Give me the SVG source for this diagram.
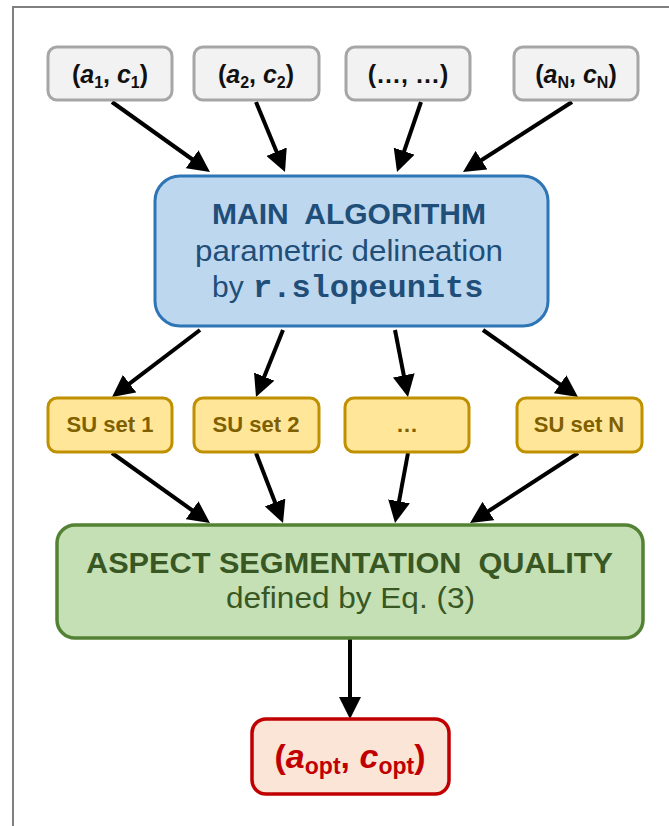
<svg xmlns="http://www.w3.org/2000/svg" width="669" height="826" viewBox="0 0 669 826">
<style>
.sans{font-family:"Liberation Sans",Arial,sans-serif}
.inp rect{fill:#f2f2f2;stroke:#a6a6a6;stroke-width:3}
.inp text{font-size:25px;font-weight:bold;fill:#111}
.su rect{fill:#ffe699;stroke:#bf9000;stroke-width:3}
.su text{font-size:22px;font-weight:bold;fill:#7f6000}
.it{font-style:italic}
.conn line{stroke:#000;stroke-width:4;fill:none}
</style>
<defs>
<marker id="ah" markerUnits="userSpaceOnUse" markerWidth="22" markerHeight="22" refX="10" refY="11" orient="auto" viewBox="0 0 22 22">
<path d="M0,0 L22,11 L0,22 z" fill="#000"/>
</marker>
</defs>
<rect x="13" y="7" width="700" height="900" fill="#fff" stroke="#7f7f7f" stroke-width="2"/>

<g class="conn" id="connectors">
<line x1="112" y1="102" x2="200.2" y2="165" marker-end="url(#ah)"/>
<line x1="256" y1="102" x2="280.4" y2="160.9" marker-end="url(#ah)"/>
<line x1="421" y1="102" x2="400.9" y2="160.6" marker-end="url(#ah)"/>
<line x1="572" y1="102" x2="473.1" y2="165.5" marker-end="url(#ah)"/>
<line x1="200" y1="330" x2="121.6" y2="389.7" marker-end="url(#ah)"/>
<line x1="283" y1="330" x2="260.5" y2="385.9" marker-end="url(#ah)"/>
<line x1="395" y1="330" x2="405.7" y2="385.2" marker-end="url(#ah)"/>
<line x1="483" y1="330" x2="568.2" y2="390.1" marker-end="url(#ah)"/>
<line x1="112" y1="453" x2="200.2" y2="516" marker-end="url(#ah)"/>
<line x1="256" y1="453" x2="278.7" y2="511.8" marker-end="url(#ah)"/>
<line x1="408" y1="453" x2="397.2" y2="511.2" marker-end="url(#ah)"/>
<line x1="578" y1="453" x2="480.1" y2="516.5" marker-end="url(#ah)"/>
<line x1="350" y1="638" x2="350" y2="707" marker-end="url(#ah)"/>
</g>

<g id="in1" class="inp sans">
<rect x="48" y="47" width="124" height="53" rx="9"/>
<text x="110" y="83" text-anchor="middle">(<tspan class="it">a</tspan><tspan font-size="16" dy="5">1</tspan><tspan dy="-5">, </tspan><tspan class="it">c</tspan><tspan font-size="16" dy="5">1</tspan><tspan dy="-5">)</tspan></text>
</g>
<g id="in2" class="inp sans">
<rect x="194" y="47" width="125" height="53" rx="9"/>
<text x="256" y="83" text-anchor="middle">(<tspan class="it">a</tspan><tspan font-size="16" dy="5">2</tspan><tspan dy="-5">, </tspan><tspan class="it">c</tspan><tspan font-size="16" dy="5">2</tspan><tspan dy="-5">)</tspan></text>
</g>
<g id="in3" class="inp sans">
<rect x="346" y="47" width="124" height="53" rx="9"/>
<text x="408" y="83" text-anchor="middle">(…, …)</text>
</g>
<g id="inN" class="inp sans">
<rect x="514" y="47" width="124" height="53" rx="9"/>
<text x="576" y="83" text-anchor="middle">(<tspan class="it">a</tspan><tspan font-size="16" dy="5">N</tspan><tspan dy="-5">, </tspan><tspan class="it">c</tspan><tspan font-size="16" dy="5">N</tspan><tspan dy="-5">)</tspan></text>
</g>

<g id="main" class="sans">
<rect x="155" y="176" width="393" height="150" rx="25" fill="#bdd7ee" stroke="#2e75b6" stroke-width="3"/>
<text x="212" y="224" font-size="29" font-weight="bold" fill="#1f4e79" textLength="274" lengthAdjust="spacingAndGlyphs" xml:space="preserve">MAIN  ALGORITHM</text>
<text x="195" y="261" font-size="30" fill="#1f4e79" textLength="308" lengthAdjust="spacingAndGlyphs">parametric delineation</text>
<text x="212" y="297" font-size="30" fill="#1f4e79">by<tspan x="253" font-family="'Liberation Mono','Courier New',monospace" font-weight="bold" font-size="32">r.slopeunits</tspan></text>
</g>

<g id="su1" class="su sans">
<rect x="48" y="398" width="124" height="54" rx="9"/>
<text x="110" y="432" text-anchor="middle">SU set 1</text>
</g>
<g id="su2" class="su sans">
<rect x="194" y="398" width="125" height="54" rx="9"/>
<text x="256" y="432" text-anchor="middle">SU set 2</text>
</g>
<g id="su3" class="su sans">
<rect x="345" y="398" width="124" height="54" rx="9"/>
<text x="407" y="432" text-anchor="middle" font-weight="normal">…</text>
</g>
<g id="suN" class="su sans">
<rect x="517" y="398" width="125" height="54" rx="9"/>
<text x="579" y="432" text-anchor="middle">SU set N</text>
</g>

<g id="quality" class="sans">
<rect x="57" y="525" width="586" height="113" rx="18" fill="#c5e0b4" stroke="#548235" stroke-width="3.5"/>
<text x="86" y="573" font-size="29" font-weight="bold" fill="#385723" textLength="527" lengthAdjust="spacingAndGlyphs" xml:space="preserve">ASPECT SEGMENTATION  QUALITY</text>
<text x="226" y="608" font-size="30" fill="#385723" textLength="249" lengthAdjust="spacingAndGlyphs">defined by Eq. (3)</text>
</g>

<g id="opt" class="sans">
<rect x="252" y="719" width="197" height="75" rx="14" fill="#fbe5d6" stroke="#c00000" stroke-width="3.5"/>
<text x="350" y="768" text-anchor="middle" font-size="34" font-weight="bold" fill="#c00000">(<tspan class="it">a</tspan><tspan font-size="23" dy="6">opt</tspan><tspan dy="-6">, </tspan><tspan class="it">c</tspan><tspan font-size="23" dy="6">opt</tspan><tspan dy="-6">)</tspan></text>
</g>
</svg>
